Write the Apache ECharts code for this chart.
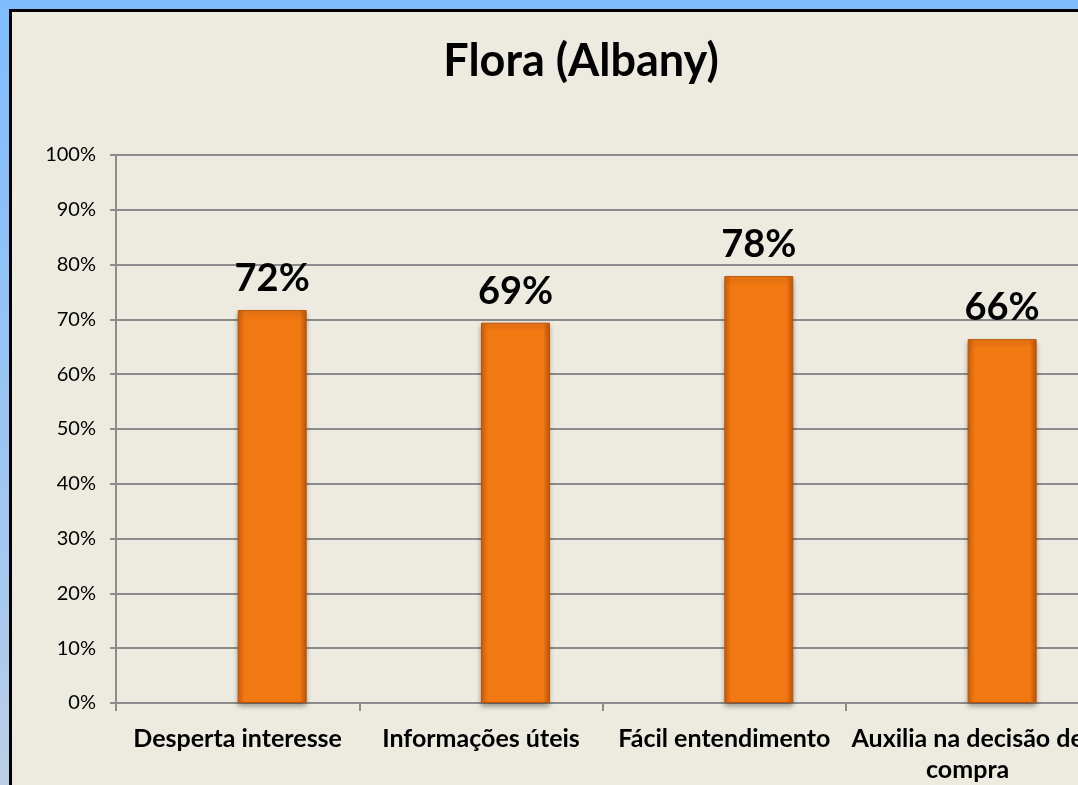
<!DOCTYPE html>
<html>
<head>
<meta charset="utf-8">
<script src="https://cdn.jsdelivr.net/npm/echarts@6/dist/echarts.min.js"></script>
<style>
  html, body { margin: 0; padding: 0; width: 1078px; height: 785px; overflow: hidden; }
  body { background: linear-gradient(to bottom, #7fbcff 0%, #a6c8ef 75%, #bccfe6 100%); position: relative; }
  #panel {
    position: absolute; left: 9px; top: 9px; width: 1200px; height: 900px;
    background: #edeae0; border: 3px solid #000; box-sizing: border-box;
  }
  #chart { position: absolute; left: 0; top: 0; width: 1200px; height: 785px; }
</style>
</head>
<body>
<div id="panel"></div>
<div id="chart"></div>
<script>
// chart data
const categories = ["Desperta interesse", "Informações úteis", "Fácil entendimento", "Auxilia na decisão de\ncompra"];
const values = [0.717, 0.694, 0.779, 0.664];
const emptySeries = ["-", "-", "-", "-"]; // placeholder series, the chart had an empty first slot

const fontFamily = "Lato, 'Open Sans', sans-serif";

const chart = echarts.init(document.getElementById("chart"), null, { renderer: "canvas" });

const barColor = new echarts.graphic.LinearGradient(0, 0, 1, 0, [
  { offset: 0, color: "#d2600a" },
  { offset: 0.1, color: "#f27812" },
  { offset: 0.9, color: "#f27812" },
  { offset: 1, color: "#c55708" }
]);

const option = {
  backgroundColor: "transparent",
  animation: false,
  title: {
    text: "Flora (Albany)",
    left: 576,
    top: 34,
    textAlign: "center",
    textStyle: { fontFamily, fontSize: 45, fontWeight: "bold", color: "#000" }
  },
  grid: { left: 116, top: 155, width: 973.3, height: 548 },
  xAxis: {
    type: "category",
    data: categories,
    axisLine: { lineStyle: { color: "#8c8c8c", width: 2 } },
    axisTick: { show: true, length: 8, lineStyle: { color: "#8c8c8c", width: 2 } },
    axisLabel: {
      interval: 0,
      margin: 20,
      fontFamily,
      fontSize: 25,
      fontWeight: "bold",
      color: "#000",
      lineHeight: 31
    }
  },
  yAxis: {
    type: "value",
    min: 0,
    max: 1,
    interval: 0.1,
    axisLine: { show: true, lineStyle: { color: "#8c8c8c", width: 2 } },
    axisTick: { show: true, length: 6, lineStyle: { color: "#8c8c8c", width: 2 } },
    axisLabel: {
      margin: 20,
      fontFamily,
      fontSize: 20,
      color: "#000",
      formatter: v => Math.round(v * 100) + "%"
    },
    splitLine: { lineStyle: { color: "#8c8c8c", width: 2 } }
  },
  series: [
    {
      type: "bar",
      data: emptySeries,
      barWidth: 69,
      barGap: "0%"
    },
    {
      type: "bar",
      data: values,
      barWidth: 69,
      barGap: "0%",
      itemStyle: {
        color: barColor,
        borderColor: "#b9530a",
        borderWidth: 1,
        shadowColor: "rgba(0,0,0,0.35)",
        shadowBlur: 5,
        shadowOffsetY: 3
      },
      label: {
        show: true,
        position: "top",
        distance: 12,
        fontFamily,
        fontSize: 38,
        fontWeight: "bold",
        color: "#000",
        formatter: p => Math.round(p.value * 100) + "%"
      }
    }
  ]
};

chart.setOption(option);
</script>
</body>
</html>
